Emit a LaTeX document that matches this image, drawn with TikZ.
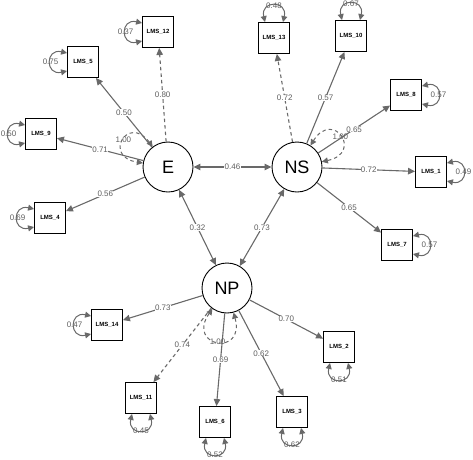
\documentclass[tikz,border=0pt]{standalone}
\usepackage{fontspec}
\setmainfont{Liberation Sans}
\usetikzlibrary{arrows.meta}
\definecolor{eg}{RGB}{105,105,105}
\definecolor{lg}{RGB}{95,95,95}
\tikzset{
  lat/.style={circle, draw=black, line width=0.9pt, fill=white, minimum size=50pt, inner sep=0pt, font=\fontsize{18}{18}\selectfont},
  obs/.style={rectangle, draw=black, line width=0.9pt, fill=white, minimum size=31pt, inner sep=0pt, font=\fontsize{6}{6}\selectfont\bfseries},
  edge/.style={draw=eg, line width=1.1pt, -{Triangle[length=7pt,width=6.5pt]}},
  biedge/.style={draw=eg, line width=1.1pt, {Triangle[length=7pt,width=6.5pt]}-{Triangle[length=7pt,width=6.5pt]}},
  dsh/.style={dash pattern=on 3.5pt off 3pt},
  elbl/.style={midway, fill=white, inner sep=0.3pt, text=lg, font=\fontsize{8}{8}\selectfont},
  vloop/.style={draw=eg, line width=1pt, {Triangle[length=6pt,width=6pt]}-{Triangle[length=6pt,width=6pt]}},
  vlbl/.style={midway, inner sep=0pt, text=lg, font=\fontsize{8}{8}\selectfont},
}
\newcommand\lmsloopL[2]{\draw[vloop] ([yshift=9pt]#1.west) .. controls +(-22,5) and +(-22,-5) .. ([yshift=-9pt]#1.west) node[vlbl]{#2};}
\newcommand\lmsloopR[2]{\draw[vloop] ([yshift=9pt]#1.east) .. controls +(22,5) and +(22,-5) .. ([yshift=-9pt]#1.east) node[vlbl]{#2};}
\newcommand\lmsloopT[2]{\draw[vloop] ([xshift=-9pt]#1.north) .. controls +(-5,22) and +(5,22) .. ([xshift=9pt]#1.north) node[vlbl]{#2};}
\newcommand\lmsloopB[2]{\draw[vloop] ([xshift=-9pt]#1.south) .. controls +(-5,-22) and +(5,-22) .. ([xshift=9pt]#1.south) node[vlbl]{#2};}
\begin{document}
\begin{tikzpicture}[x=1pt,y=1pt]
\useasboundingbox (0,0) rectangle (473,-459);
% latent
\node[lat] (E) at (168,-167) {E};
\node[lat] (NS) at (297,-167) {NS};
\node[lat] (NP) at (227,-288) {NP};
% observed
\node[obs] (L12) at (158,-32) {LMS\_12};
\node[obs] (L5) at (83,-62) {LMS\_5};
\node[obs] (L9) at (41,-134) {LMS\_9};
\node[obs] (L4) at (50,-218) {LMS\_4};
\node[obs] (L13) at (274,-38) {LMS\_13};
\node[obs] (L10) at (351,-36) {LMS\_10};
\node[obs] (L8) at (406,-95) {LMS\_8};
\node[obs] (L1) at (431,-172) {LMS\_1};
\node[obs] (L7) at (397,-245) {LMS\_7};
\node[obs] (L2) at (339,-347) {LMS\_2};
\node[obs] (L3) at (292,-412) {LMS\_3};
\node[obs] (L14) at (107,-325) {LMS\_14};
\node[obs] (L11) at (141,-398) {LMS\_11};
\node[obs] (L6) at (215,-422) {LMS\_6};
% loadings
\draw[edge,dsh] (E) -- (L12) node[elbl]{0.80};
\draw[edge] (E) -- (L5) node[elbl]{0.50};
\draw[edge] (E) -- (L9) node[elbl]{0.71};
\draw[edge] (E) -- (L4) node[elbl]{0.56};
\draw[edge,dsh] (NS) -- (L13) node[elbl]{0.72};
\draw[edge] (NS) -- (L10) node[elbl]{0.57};
\draw[edge] (NS) -- (L8) node[elbl]{0.65};
\draw[edge] (NS) -- (L1) node[elbl]{0.72};
\draw[edge] (NS) -- (L7) node[elbl]{0.65};
\draw[edge] (NP) -- (L14) node[elbl]{0.73};
\draw[edge,dsh] (NP) -- (L11) node[elbl]{0.74};
\draw[edge] (NP) -- (L6) node[elbl]{0.69};
\draw[edge] (NP) -- (L3) node[elbl]{0.62};
\draw[edge] (NP) -- (L2) node[elbl]{0.70};
% covariances
\draw[biedge] (E) -- (NS) node[elbl]{0.46};
\draw[biedge] (E) -- (NP) node[elbl]{0.32};
\draw[biedge] (NS) -- (NP) node[elbl]{0.73};
% latent variances
\draw[vloop,dsh] (E.127) to[out=127,in=171,looseness=5.5] node[vlbl]{1.00} (E.171);
\draw[vloop,dsh] (NS.58) to[out=58,in=12,looseness=5.5] node[vlbl]{1.00} (NS.12);
\draw[vloop,dsh] (NP.-125) to[out=-125,in=-75,looseness=5.5] node[vlbl]{1.00} (NP.-75);
% residual variances
\lmsloopL{L12}{0.37}
\lmsloopL{L5}{0.75}
\lmsloopL{L9}{0.50}
\lmsloopL{L4}{0.69}
\lmsloopL{L14}{0.47}
\lmsloopT{L13}{0.48}
\lmsloopT{L10}{0.67}
\lmsloopR{L8}{0.57}
\lmsloopR{L1}{0.49}
\lmsloopR{L7}{0.57}
\lmsloopB{L2}{0.51}
\lmsloopB{L3}{0.62}
\lmsloopB{L6}{0.52}
\lmsloopB{L11}{0.45}
\end{tikzpicture}
\end{document}
